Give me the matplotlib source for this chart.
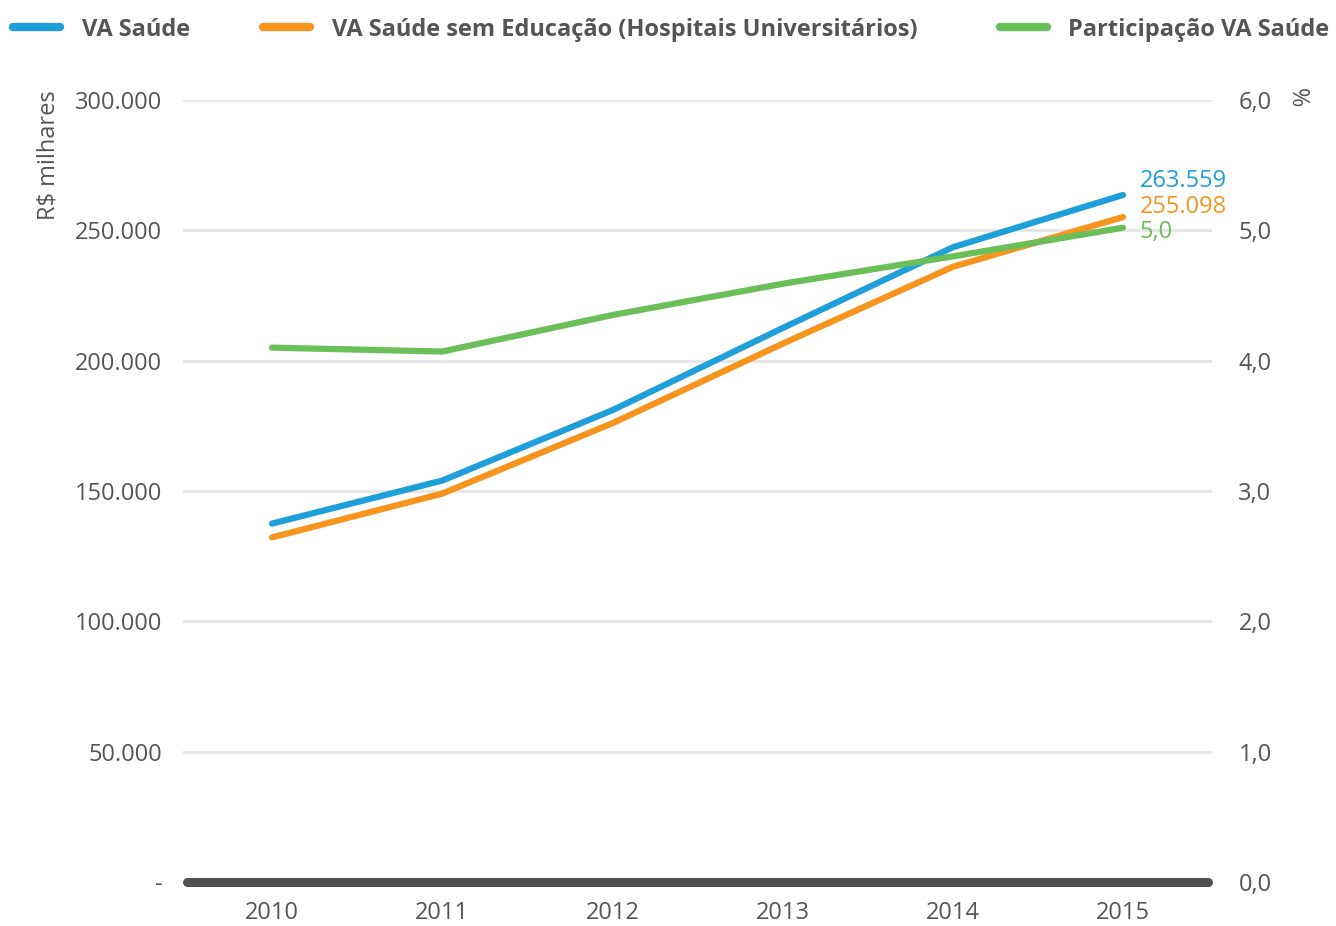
import matplotlib
matplotlib.use("Agg")
import matplotlib.pyplot as plt
from matplotlib.lines import Line2D

plt.rcParams['font.family'] = ['Open Sans', 'DejaVu Sans']

years = [2010, 2011, 2012, 2013, 2014, 2015]
va_saude = [137.5, 154.0, 181.0, 212.5, 243.5, 263.559]
va_sem_edu = [132.2, 149.0, 176.0, 206.5, 236.0, 255.098]
participacao = [4.10, 4.07, 4.35, 4.59, 4.80, 5.02]
left_ticks = [0, 50, 100, 150, 200, 250, 300]
left_labels = ["-", "50.000", "100.000", "150.000", "200.000", "250.000", "300.000"]
right_ticks = [0, 1, 2, 3, 4, 5, 6]
right_labels = ["0,0", "1,0", "2,0", "3,0", "4,0", "5,0", "6,0"]
series_names = ["VA Saúde", "VA Saúde sem Educação (Hospitais Universitários)", "Participação VA Saúde"]
end_labels = ["263.559", "255.098", "5,0"]

BLUE = "#1f9fd9"
ORANGE = "#f7941d"
GREEN = "#6abf59"
TXT = "#555555"
FS = 17

W, H = 1336, 926
fig = plt.figure(figsize=(W/100, H/100), dpi=100)
ax = fig.add_axes([183/W, (H-882)/H, (1212-183)/W, 782/H])
ax2 = ax.twinx()

ax.set_xlim(2009.477, 2015.523)
ax.set_ylim(0, 300)
ax2.set_ylim(0, 6)

for a in (ax, ax2):
    for s in a.spines.values():
        s.set_visible(False)

ax.set_yticks(left_ticks)
ax.set_yticklabels(left_labels)
ax2.set_yticks(right_ticks)
ax2.set_yticklabels(right_labels)
ax.set_xticks(years)
ax.set_xticklabels([str(y) for y in years])
ax.tick_params(axis='y', length=0, pad=15, labelsize=FS, labelcolor=TXT)
ax.tick_params(axis='x', length=0, pad=14, labelsize=FS, labelcolor=TXT)
ax2.tick_params(axis='y', length=0, pad=19, labelsize=FS, labelcolor=TXT)

for t in left_ticks[1:]:
    ax.axhline(t, color="#e6e6e6", lw=2.2, zorder=1)
ax.axhline(0, color="#505050", lw=6.5, solid_capstyle='round', zorder=2,
           xmin=4/1029, xmax=1-4/1029, clip_on=False)

ax.plot(years, va_saude, color=BLUE, lw=4.5, solid_capstyle='round', zorder=4)
ax.plot(years, va_sem_edu, color=ORANGE, lw=4.5, solid_capstyle='round', zorder=4)
ax2.plot(years, participacao, color=GREEN, lw=4.5, solid_capstyle='round', zorder=4)
ax2.set_zorder(ax.get_zorder() + 1)
ax2.patch.set_visible(False)

ax.annotate(end_labels[0], (years[-1], va_saude[-1]), xytext=(12, 10), textcoords='offset points',
            color=BLUE, fontsize=FS, va='center', ha='left')
ax.annotate(end_labels[1], (years[-1], va_sem_edu[-1]), xytext=(12, 7.5), textcoords='offset points',
            color=ORANGE, fontsize=FS, va='center', ha='left')
ax2.annotate(end_labels[2], (years[-1], participacao[-1]), xytext=(12, -3), textcoords='offset points',
             color=GREEN, fontsize=FS, va='center', ha='left')

fig.text(48/W, 1 - 90/H, "R$ milhares", rotation=90, ha='center', va='top', fontsize=FS, color=TXT)
fig.text(1297/W, 1 - 88/H, "%", rotation=270, ha='center', va='top', fontsize=FS, color=TXT)

# legend
leg_y = 1 - 27/H
for x0, x1, tx, c, name in [(13, 60, 82, BLUE, series_names[0]),
                            (263, 310, 332, ORANGE, series_names[1]),
                            (1000, 1047, 1068, GREEN, series_names[2])]:
    fig.add_artist(Line2D([x0/W, x1/W], [leg_y, leg_y], color=c, lw=6, solid_capstyle='round'))
    fig.text(tx/W, leg_y - 3/H, name, ha='left', va='center', fontsize=FS, fontweight='bold', color=TXT)

fig.savefig("out.png", dpi=100)
